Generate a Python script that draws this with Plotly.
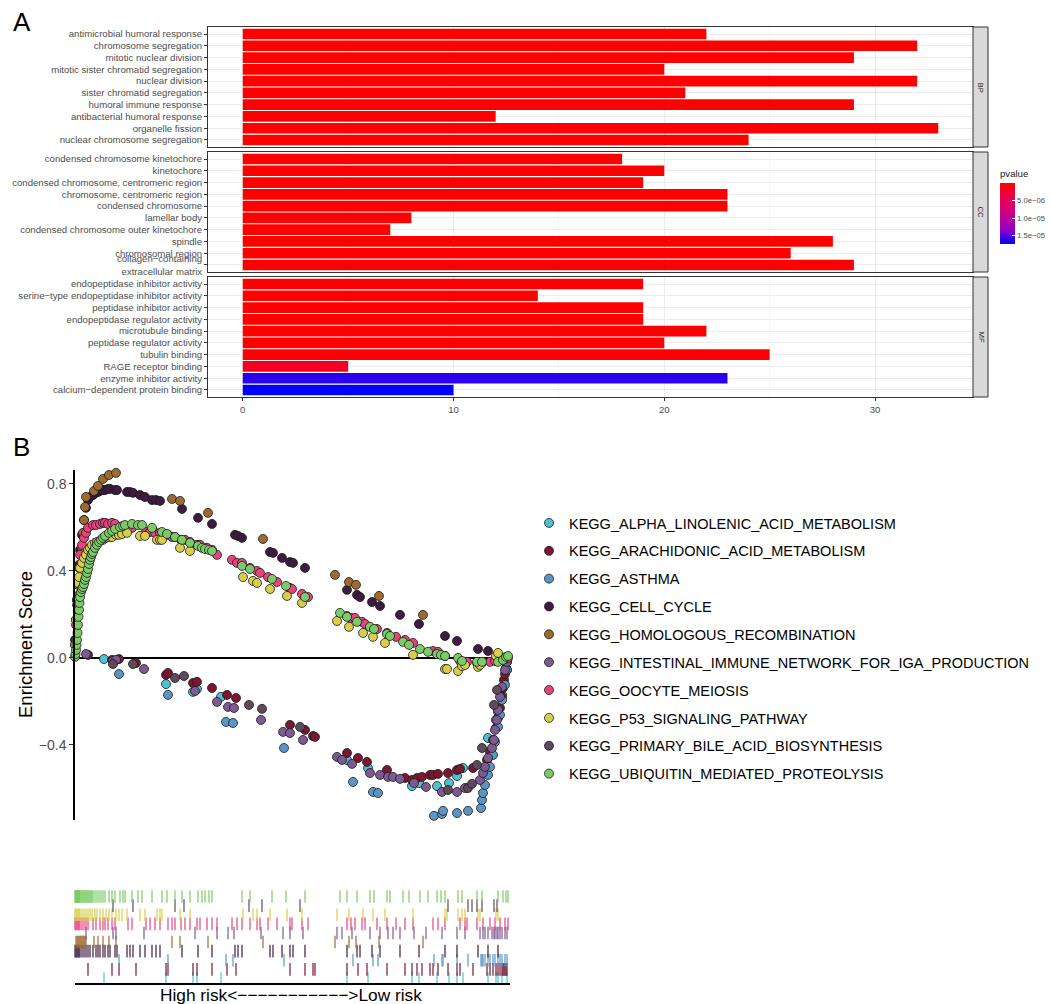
import plotly.graph_objects as go

W, H = 1052, 1004
FONT = "Liberation Sans, Arial, sans-serif"

# ---------------- Panel A data ----------------
bp_terms = ["antimicrobial humoral response", "chromosome segregation", "mitotic nuclear division",
            "mitotic sister chromatid segregation", "nuclear division", "sister chromatid segregation",
            "humoral immune response", "antibacterial humoral response", "organelle fission",
            "nuclear chromosome segregation"]
bp_counts = [22, 32, 29, 20, 32, 21, 29, 12, 33, 24]
bp_pvalues = [1e-8, 1e-8, 1e-8, 1e-8, 1e-8, 1e-8, 1e-8, 1e-8, 1e-8, 1e-8]

cc_terms = ["condensed chromosome kinetochore", "kinetochore", "condensed chromosome, centromeric region",
            "chromosome, centromeric region", "condensed chromosome", "lamellar body",
            "condensed chromosome outer kinetochore", "spindle", "chromosomal region",
            "collagen\u2212containing extracellular matrix"]
cc_labels = ["condensed chromosome kinetochore", "kinetochore", "condensed chromosome, centromeric region",
             "chromosome, centromeric region", "condensed chromosome", "lamellar body",
             "condensed chromosome outer kinetochore", "spindle", "chromosomal region",
             "collagen\u2212containing<br>extracellular matrix"]
cc_counts = [18, 20, 19, 23, 23, 8, 7, 28, 26, 29]
cc_pvalues = [1e-8, 1e-8, 1e-8, 1e-8, 1e-8, 1e-8, 1e-8, 1e-8, 1e-8, 1e-8]

mf_terms = ["endopeptidase inhibitor activity", "serine\u2212type endopeptidase inhibitor activity",
            "peptidase inhibitor activity", "endopeptidase regulator activity", "microtubule binding",
            "peptidase regulator activity", "tubulin binding", "RAGE receptor binding",
            "enzyme inhibitor activity", "calcium\u2212dependent protein binding"]
mf_counts = [19, 14, 19, 19, 22, 20, 25, 5, 23, 10]
mf_pvalues = [1e-8, 1e-8, 1e-8, 1e-8, 1e-8, 1e-8, 3e-7, 2.0e-6, 1.62e-5, 1.74e-5]

pv_ticks = [5e-6, 1e-5, 1.5e-5]
pv_ticktext = ["5.0e\u221206", "1.0e\u221205", "1.5e\u221205"]
pv_max = 1.74e-5

# ---------------- Panel B data ----------------
names = ["KEGG_ALPHA_LINOLENIC_ACID_METABOLISM", "KEGG_ARACHIDONIC_ACID_METABOLISM", "KEGG_ASTHMA",
         "KEGG_CELL_CYCLE", "KEGG_HOMOLOGOUS_RECOMBINATION",
         "KEGG_INTESTINAL_IMMUNE_NETWORK_FOR_IGA_PRODUCTION", "KEGG_OOCYTE_MEIOSIS",
         "KEGG_P53_SIGNALING_PATHWAY", "KEGG_PRIMARY_BILE_ACID_BIOSYNTHESIS",
         "KEGG_UBIQUITIN_MEDIATED_PROTEOLYSIS"]
colors = ["#4DC3CF", "#7A1832", "#5C95C4", "#3E1B40", "#9C6B2F",
          "#7B5B92", "#E8437F", "#D7CE4C", "#5E4A5C", "#7CCB68"]

alpha_rank = [29, 91, 118, 122, 146, 272, 293, 337, 344, 362, 374, 382, 388, 413, 421, 423, 427, 432]
alpha_es = [-0.005, -0.120, -0.156, -0.143, -0.179, -0.469, -0.506, -0.589, -0.575, -0.589, -0.575,
            -0.543, -0.506, -0.368, -0.285, -0.248, -0.170, -0.055]

arach_rank = [13, 37, 44, 61, 91, 93, 118, 122, 137, 152, 161, 215, 230, 238, 240, 272, 283, 292, 312,
              330, 337, 342, 347, 355, 358, 363, 373, 382, 385, 398, 412, 415, 418, 421, 423, 425, 427,
              428, 429, 430, 431, 432]
arach_es = [0.014, -0.009, -0.005, -0.023, -0.078, -0.069, -0.115, -0.110, -0.138, -0.170, -0.184,
            -0.308, -0.331, -0.359, -0.363, -0.437, -0.460, -0.478, -0.515, -0.552, -0.561, -0.552,
            -0.547, -0.538, -0.538, -0.533, -0.529, -0.515, -0.510, -0.506, -0.469, -0.432, -0.377,
            -0.322, -0.276, -0.230, -0.179, -0.138, -0.101, -0.074, -0.046, -0.018]

asthma_rank = [44, 93, 151, 158, 209, 278, 298, 303, 359, 367, 368, 382, 393, 406, 407, 408, 410, 413,
               415, 418, 420, 423, 425, 427, 430, 432]
asthma_es = [-0.074, -0.170, -0.294, -0.299, -0.414, -0.570, -0.616, -0.621, -0.726, -0.717, -0.703,
             -0.713, -0.703, -0.690, -0.653, -0.621, -0.584, -0.538, -0.501, -0.446, -0.386, -0.317,
             -0.262, -0.193, -0.124, -0.055]

cycle_rank = [0, 1, 2, 3, 4, 5, 7, 9, 11, 13, 15, 18, 21, 23, 25, 28, 30, 33, 35, 40, 42, 52, 55, 58,
              65, 70, 77, 81, 85, 107, 123, 137, 160, 163, 167, 195, 198, 207, 215, 218, 230, 272, 282,
              285, 297, 305, 325, 344, 370, 382, 403, 413, 423]
cycle_es = [0.083, 0.175, 0.267, 0.359, 0.428, 0.497, 0.566, 0.634, 0.690, 0.726, 0.740, 0.749, 0.759,
            0.763, 0.768, 0.772, 0.772, 0.777, 0.777, 0.772, 0.772, 0.763, 0.763, 0.759, 0.749, 0.740,
            0.726, 0.726, 0.722, 0.685, 0.644, 0.616, 0.566, 0.561, 0.552, 0.487, 0.483, 0.460, 0.441,
            0.437, 0.414, 0.313, 0.290, 0.280, 0.257, 0.239, 0.198, 0.156, 0.101, 0.078, 0.041, 0.032,
            0.014]

homol_rank = [1, 2, 3, 4, 5, 6, 7, 8, 9, 10, 11, 19, 23, 28, 34, 41, 97, 105, 133, 188, 260, 274, 281,
              304, 348]
homol_es = [0.083, 0.152, 0.221, 0.290, 0.359, 0.428, 0.506, 0.575, 0.634, 0.694, 0.740, 0.768, 0.791,
            0.823, 0.841, 0.851, 0.731, 0.722, 0.667, 0.547, 0.382, 0.349, 0.336, 0.285, 0.198]

intest_rank = [11, 38, 41, 69, 120, 142, 153, 159, 186, 208, 215, 228, 262, 267, 277, 295, 305, 313,
               318, 325, 339, 351, 367, 382, 390, 405, 408, 410, 413, 417, 419, 420, 422, 423, 425, 427,
               430, 432]
intest_es = [0.018, -0.014, -0.009, -0.051, -0.152, -0.202, -0.225, -0.230, -0.285, -0.340, -0.345,
             -0.377, -0.455, -0.469, -0.487, -0.529, -0.538, -0.547, -0.547, -0.556, -0.575, -0.593,
             -0.616, -0.616, -0.598, -0.561, -0.529, -0.501, -0.460, -0.414, -0.377, -0.331, -0.285,
             -0.239, -0.179, -0.133, -0.055, -0.018]

oocyte_rank = [0, 1, 2, 3, 4, 5, 7, 9, 11, 13, 18, 21, 25, 28, 30, 33, 37, 40, 53, 57, 71, 75, 80, 85,
               93, 97, 100, 106, 110, 115, 122, 125, 132, 137, 142, 157, 162, 167, 175, 182, 185, 193,
               202, 215, 217, 227, 233, 272, 276, 280, 287, 290, 302, 312, 321, 330, 338, 358, 363, 370,
               385, 390, 392, 402, 408, 415, 420, 425, 430, 433]
oocyte_es = [0.060, 0.152, 0.244, 0.336, 0.414, 0.474, 0.520, 0.552, 0.575, 0.598, 0.611, 0.611, 0.616,
             0.621, 0.621, 0.616, 0.621, 0.616, 0.598, 0.598, 0.579, 0.579, 0.575, 0.575, 0.566, 0.556,
             0.556, 0.543, 0.543, 0.533, 0.520, 0.520, 0.506, 0.497, 0.474, 0.451, 0.437, 0.437, 0.414,
             0.400, 0.391, 0.372, 0.349, 0.322, 0.317, 0.294, 0.280, 0.193, 0.184, 0.184, 0.166, 0.156,
             0.133, 0.115, 0.097, 0.083, 0.069, 0.032, 0.028, 0.009, -0.014, -0.018, -0.018, -0.023,
             -0.018, -0.018, -0.014, -0.009, -0.005, 0.0]

p53_rank = [0, 1, 2, 3, 4, 5, 7, 9, 11, 13, 15, 17, 20, 22, 25, 28, 31, 34, 37, 41, 44, 47, 52, 65, 70,
            82, 85, 87, 105, 115, 168, 178, 182, 195, 212, 227, 262, 274, 288, 298, 310, 338, 370, 372,
            383, 387, 390, 403, 405, 421, 423]
p53_es = [0.060, 0.175, 0.267, 0.345, 0.372, 0.414, 0.437, 0.460, 0.474, 0.497, 0.506, 0.520, 0.529,
          0.533, 0.538, 0.543, 0.552, 0.556, 0.556, 0.566, 0.566, 0.570, 0.575, 0.561, 0.561, 0.543,
          0.543, 0.543, 0.506, 0.492, 0.372, 0.354, 0.345, 0.317, 0.285, 0.253, 0.170, 0.143, 0.115,
          0.097, 0.069, 0.014, -0.051, -0.051, -0.060, -0.037, -0.032, -0.041, -0.032, 0.009, 0.023]

bile_rank = [38, 58, 100, 109, 174, 187, 225, 373, 393, 397, 402, 407, 419, 422]
bile_es = [-0.028, -0.028, -0.092, -0.083, -0.216, -0.234, -0.317, -0.607, -0.598, -0.579, -0.492,
           -0.414, -0.216, -0.147]

ubiq_rank = [0, 0.5, 1, 1.5, 2, 2.5, 3, 3.5, 4, 4.5, 5, 6, 7, 8, 9, 10, 11, 12, 13, 14, 15, 16, 17, 18,
             20, 22, 24, 26, 28, 30, 34, 37, 40, 45, 48, 50, 57, 63, 67, 77, 87, 92, 100, 107, 115, 123,
             127, 130, 134, 137, 167, 175, 197, 211, 230, 265, 272, 282, 295, 299, 312, 315, 328, 334,
             345, 353, 362, 366, 370, 383, 387, 402, 407, 423, 428, 431, 433]
ubiq_es = [0.005, 0.018, 0.037, 0.060, 0.083, 0.115, 0.152, 0.189, 0.221, 0.253, 0.280, 0.303, 0.317,
           0.326, 0.340, 0.359, 0.372, 0.391, 0.409, 0.432, 0.451, 0.464, 0.478, 0.487, 0.506, 0.520,
           0.533, 0.543, 0.552, 0.561, 0.575, 0.584, 0.593, 0.602, 0.607, 0.611, 0.616, 0.611, 0.611,
           0.598, 0.579, 0.570, 0.556, 0.543, 0.529, 0.515, 0.506, 0.501, 0.497, 0.492, 0.423, 0.409,
           0.363, 0.331, 0.280, 0.207, 0.189, 0.166, 0.143, 0.133, 0.110, 0.101, 0.074, 0.060, 0.041,
           0.028, 0.018, 0.014, 0.009, 0.0, -0.014, -0.018, -0.018, -0.018, -0.009, 0.005, 0.009]

ranks = [alpha_rank, arach_rank, asthma_rank, cycle_rank, homol_rank, intest_rank, oocyte_rank,
         p53_rank, bile_rank, ubiq_rank]
scores = [alpha_es, arach_es, asthma_es, cycle_es, homol_es, intest_es, oocyte_es, p53_es, bile_es,
          ubiq_es]

es_ticks = [-0.4, 0.0, 0.4, 0.8]
es_ticktext = ["\u22120.4", "0.0", "0.4", "0.8"]
n_rank = 435

# ---------------- helpers ----------------
def px_x(p):
    return p / W


def px_y(p):
    return 1 - p / H


fig = go.Figure()

# Panel A geometry (pixel boxes)
xA = [px_x(208), px_x(973)]
panels = [(27, 147), (152, 272), (277, 397)]
groups = [("BP", bp_terms, bp_terms, bp_counts, bp_pvalues),
          ("CC", cc_terms, cc_labels, cc_counts, cc_pvalues),
          ("MF", mf_terms, mf_terms, mf_counts, mf_pvalues)]

for i, (lab, terms, labels, counts, pvals) in enumerate(groups):
    sfx = "" if i == 0 else str(i + 1)
    fig.add_trace(go.Bar(
        x=counts, y=terms, orientation="h", width=0.9,
        marker=dict(color=[-p for p in pvals], coloraxis="coloraxis", line=dict(width=0)),
        xaxis="x" + sfx, yaxis="y" + sfx, showlegend=False))
    top, bot = panels[i]
    fig.layout["xaxis" + sfx] = dict(
        domain=xA, anchor="y" + sfx, range=[-1.65, 34.65], automargin=False,
        tickvals=[0, 10, 20, 30], showticklabels=(i == 2),
        ticks="outside" if i == 2 else "", ticklen=3, tickcolor="#333333",
        tickfont=dict(size=9.6, color="#4D4D4D", family=FONT),
        showgrid=True, gridcolor="#EBEBEB", gridwidth=1,
        minor=dict(dtick=5, tick0=0, showgrid=True, gridcolor="#F5F5F5", gridwidth=0.6),
        zeroline=False, showline=True, mirror=True, linecolor="#333333", linewidth=1)
    fig.layout["yaxis" + sfx] = dict(
        domain=[px_y(bot), px_y(top)], anchor="x" + sfx, type="category", automargin=False,
        categoryorder="array", categoryarray=terms, range=[9.6, -0.6],
        tickmode="array", tickvals=terms, ticktext=labels,
        ticks="outside", ticklen=3, tickcolor="#333333",
        tickfont=dict(size=9.6, color="#4D4D4D", family=FONT),
        showgrid=True, gridcolor="#EBEBEB", gridwidth=1,
        zeroline=False, showline=True, mirror=True, linecolor="#333333", linewidth=1)
    # facet strip
    fig.add_shape(type="rect", xref="paper", yref="paper",
                  x0=px_x(973), x1=px_x(988), y0=px_y(bot), y1=px_y(top),
                  fillcolor="#D9D9D9", line=dict(color="#333333", width=1))
    fig.add_annotation(x=px_x(980.5), y=px_y((top + bot) / 2), xref="paper", yref="paper",
                       xanchor="center", yanchor="middle",
                       text=lab, textangle=90, showarrow=False,
                       font=dict(size=7.7, color="#1A1A1A", family=FONT))

fig.update_layout(coloraxis=dict(
    cmin=-pv_max, cmax=0,
    colorscale=[[0, "#0000FF"], [0.25, "#9A00C3"], [0.5, "#CA0088"], [0.75, "#E80050"], [1, "#FF0000"]],
    colorbar=dict(
        title=dict(text="pvalue", side="top", font=dict(size=9.6, color="#1A1A1A", family=FONT)),
        thickness=15, len=77, lenmode="pixels", x=px_x(1000), xanchor="left",
        y=px_y(244), yanchor="bottom", xpad=0, ypad=0, outlinewidth=0,
        tickmode="array", tickvals=[-t for t in pv_ticks], ticktext=pv_ticktext,
        ticks="inside", tickcolor="white", ticklen=3, tickwidth=1,
        tickfont=dict(size=7.7, color="#4D4D4D", family=FONT))))

# ---------------- Panel B: running enrichment scores ----------------
for i in range(len(names)):
    fig.add_trace(go.Scatter(
        x=ranks[i], y=scores[i], mode="markers", name=names[i], legendgroup=names[i],
        marker=dict(size=9, color=colors[i], line=dict(color="#1A1A1A", width=0.8)),
        xaxis="x4", yaxis="y4", cliponaxis=False))

for i in range(len(names)):
    fig.add_trace(go.Scatter(
        x=ranks[i], y=[i] * len(ranks[i]), mode="markers", legendgroup=names[i], showlegend=False,
        marker=dict(symbol="line-ns-open", size=9, color=colors[i], line=dict(color=colors[i], width=1.2)),
        xaxis="x5", yaxis="y5", cliponaxis=False))

xB = [px_x(75), px_x(510)]
fig.update_layout(
    xaxis4=dict(domain=xB, anchor="y4", range=[0, n_rank], showticklabels=False, ticks="",
                showgrid=False, zeroline=False, showline=False, automargin=False),
    yaxis4=dict(domain=[px_y(820), px_y(470)], anchor="x4", range=[-0.745, 0.864], automargin=False,
                tickmode="array", tickvals=es_ticks, ticktext=es_ticktext,
                ticks="outside", ticklen=4, tickcolor="#333333", tickwidth=1,
                tickfont=dict(size=14, color="#4D4D4D", family=FONT),
                showgrid=False, zeroline=True, zerolinecolor="black", zerolinewidth=1.5,
                showline=True, linecolor="black", linewidth=1.5),
    xaxis5=dict(domain=xB, anchor="y5", range=[0, n_rank], showticklabels=False, ticks="",
                automargin=False,
                showgrid=False, zeroline=False, showline=True, linecolor="black", linewidth=1.6),
    yaxis5=dict(domain=[px_y(983), px_y(892)], anchor="x5", range=[-0.5, 9.5], visible=False,
                automargin=False),
)

fig.add_annotation(x=px_x(25), y=px_y(645), xref="paper", yref="paper", text="Enrichment Score",
                   xanchor="center", yanchor="middle",
                   textangle=-90, showarrow=False, font=dict(size=18.5, color="black", family=FONT))
fig.add_annotation(x=px_x(291), y=px_y(995), xref="paper", yref="paper",
                   xanchor="center", yanchor="middle",
                   text="High risk<" + "\u2212" * 11 + ">Low risk",
                   showarrow=False, font=dict(size=17.3, color="black", family=FONT))
fig.add_annotation(x=px_x(11), y=px_y(22), xref="paper", yref="paper", text="A",
                   xanchor="left", yanchor="middle",
                   showarrow=False, font=dict(size=26, color="black", family=FONT))
fig.add_annotation(x=px_x(11), y=px_y(447), xref="paper", yref="paper", text="B",
                   xanchor="left", yanchor="middle",
                   showarrow=False, font=dict(size=26, color="black", family=FONT))

fig.update_layout(
    width=W, height=H, autosize=False,
    margin=dict(l=0, r=0, t=0, b=0, pad=0, autoexpand=False),
    paper_bgcolor="white", plot_bgcolor="white", font=dict(family=FONT),
    legend=dict(x=px_x(529), y=px_y(507), xanchor="left", yanchor="top",
                font=dict(size=14.5, color="black", family=FONT), tracegroupgap=6,
                itemsizing="trace", bgcolor="rgba(0,0,0,0)"),
    bargap=0.1,
)

fig.write_html("out.html", config={"displayModeBar": False},
               post_script="document.body.style.margin='0';document.body.style.overflow='hidden';")
